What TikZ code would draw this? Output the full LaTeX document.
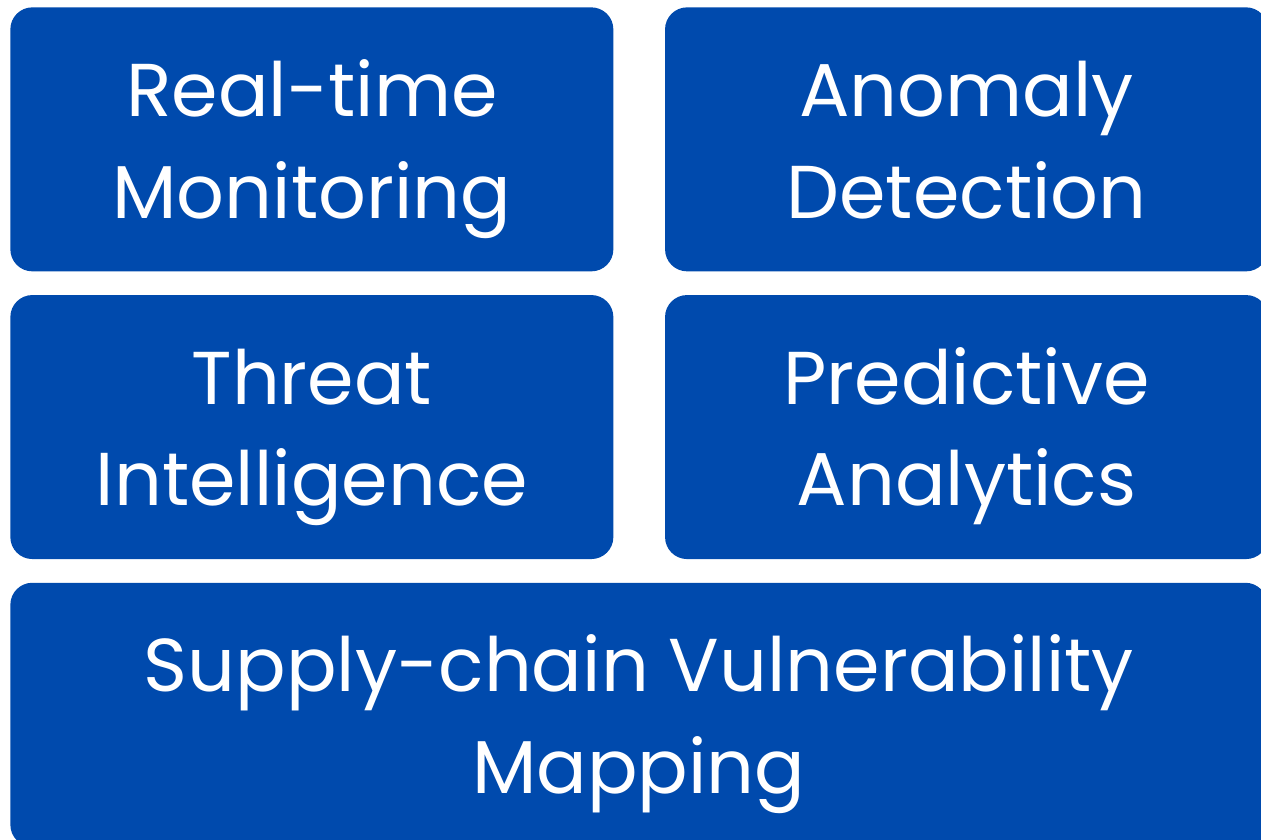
\documentclass[tikz,border=0pt]{standalone}
\usepackage{fontspec}
\setmainfont{Poppins}
\definecolor{tilefill}{RGB}{0, 74, 173}
\usetikzlibrary{positioning}
\newcommand{\tline}{\rule[-0.44cm]{0pt}{2cm}}

\begin{document}
\begin{tikzpicture}[
    tile/.style={fill=tilefill, text=white, rounded corners=0.44cm,
      minimum width=12.06cm, minimum height=5.28cm, align=center,
      inner sep=0pt, font=\fontsize{42.6}{56.7}\selectfont},
    node distance=0.46cm and 1.02cm
  ]
  \useasboundingbox (0, 0) rectangle (25.22, -16.8);

  % two rows of tiles
  \node[tile, anchor=north west] (monitor) at (0.2, -0.14)
    {\tline Real-time\\\tline Monitoring};
  \node[tile, right=of monitor] (anomaly) {\tline Anomaly\\\tline Detection};
  \node[tile, below=of monitor] (threat) {\tline Threat\\\tline Intelligence};
  \node[tile, below=of anomaly] (predict) {\tline Predictive\\\tline Analytics};

  % wide tile at the bottom
  \node[tile, minimum width=25.14cm, below=of threat.south west, anchor=north west]
    (supply) {\tline Supply-chain Vulnerability\\\tline Mapping};
\end{tikzpicture}
\end{document}
